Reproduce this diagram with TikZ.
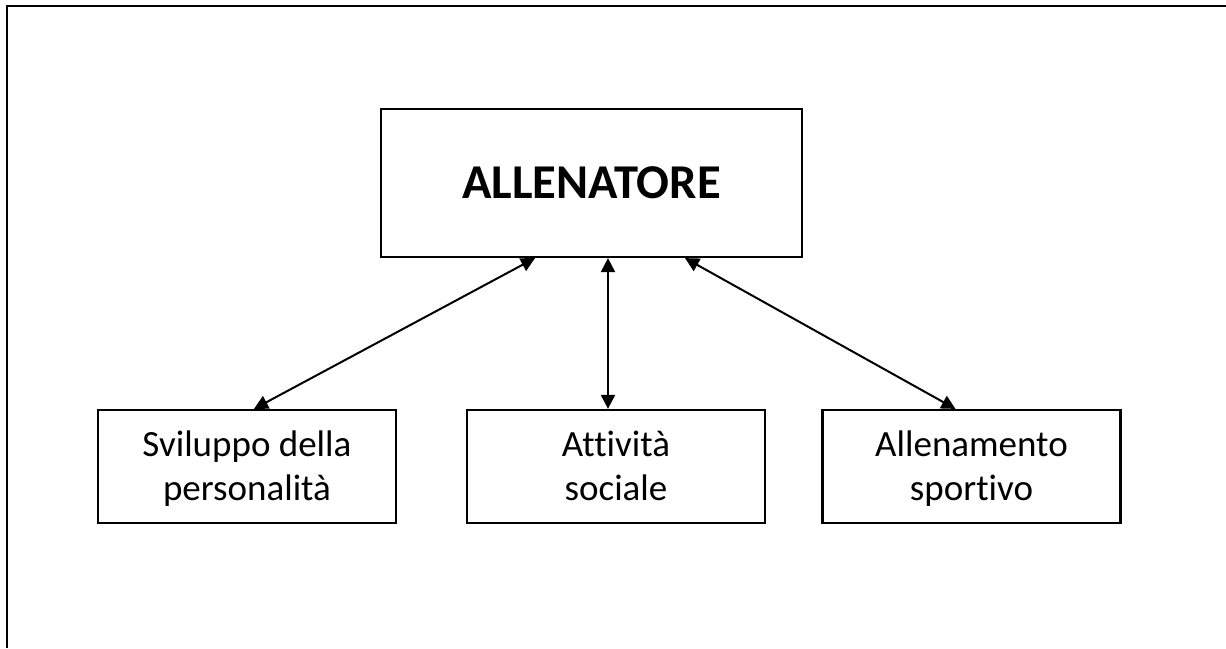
\documentclass[tikz,border=0pt]{standalone}
\usepackage{fontspec}
\setmainfont{Carlito}[Ligatures=NoCommon]
\usetikzlibrary{arrows.meta}
\newcommand{\topstrut}{\rule{0pt}{18.4pt}}
\begin{document}
\begin{tikzpicture}[x=0.5pt,y=-0.5pt,
  box/.style={draw,line width=1.1pt,align=center,inner sep=0pt},
  small/.style={box,minimum width=149pt,minimum height=56.5pt,font=\fontsize{18.5}{22}\selectfont},
  link/.style={line width=1pt,{Triangle[length=7pt,width=7pt]}-{Triangle[length=7pt,width=7pt]}}]
\useasboundingbox (0,0) rectangle (1226,648);
%frame
\draw[line width=1.2pt] (7,648)--(7,6)--(1226,6);
%boxes
\node[box,minimum width=210.5pt,minimum height=74pt,font=\fontsize{24.3}{30}\selectfont\bfseries] (boss) at (591.5,183) {ALLENATORE};
\node[small] (pers) at (247,466.5) {\topstrut Sviluppo della\\personalità\strut};
\node[small] (soc) at (616,466.5) {\topstrut Attività\\sociale\strut};
\node[small] (sport) at (971.5,466.5) {\topstrut Allenamento\\sportivo\strut};
%arrows
\draw[link] ([xshift=-28.25pt]boss.south) -- ([xshift=3.5pt]pers.north);
\draw[link] ([xshift=8.25pt]boss.south) -- ([xshift=-4pt]soc.north);
\draw[link] ([xshift=46.75pt]boss.south) -- ([xshift=-8pt]sport.north);
\end{tikzpicture}
\end{document}
